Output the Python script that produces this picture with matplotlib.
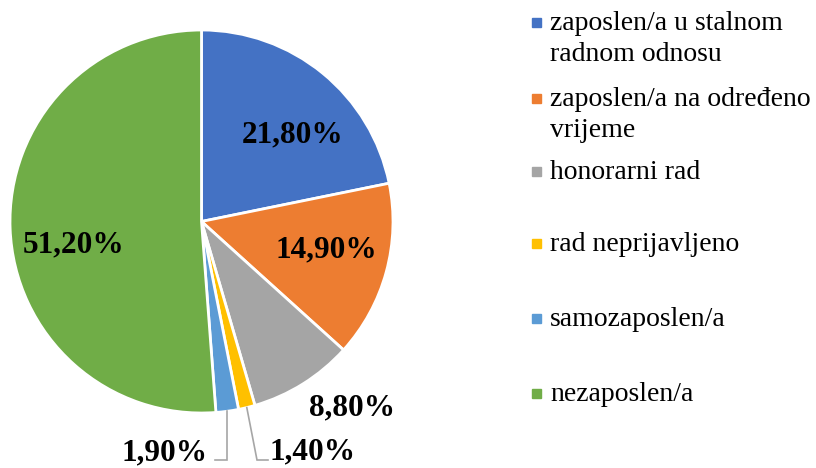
import numpy as np
import matplotlib.pyplot as plt

# podaci
kategorije = ['zaposlen/a u stalnom\nradnom odnosu',
              'zaposlen/a na određeno\nvrijeme',
              'honorarni rad',
              'rad neprijavljeno',
              'samozaposlen/a',
              'nezaposlen/a']
postoci = [21.8, 14.9, 8.8, 1.4, 1.9, 51.2]
boje = ['#4472C4', '#ED7D31', '#A5A5A5', '#FFC000', '#5B9BD5', '#70AD47']

W, H = 816, 468
fig = plt.figure(figsize=(W / 100, H / 100), dpi=100)
ax = fig.add_axes([0, 0, 1, 1])

cx, cy, r = 201.5, H - 221.5, 191.5
wedges, _ = ax.pie(postoci, colors=boje, startangle=90, counterclock=False,
                   center=(cx, cy), radius=r,
                   wedgeprops=dict(edgecolor='white', linewidth=2))
ax.set_xlim(0, W)
ax.set_ylim(0, H)
ax.set_aspect('equal')
ax.axis('off')

# polozaji oznaka (piksela, y od dna)
pos_oznaka = [(293, 333), (326, 218), (352, 60), (312, 16), (164, 15), (73.5, 223)]

for i, (p, (x, y)) in enumerate(zip(postoci, pos_oznaka)):
    txt = f'{p:.2f}%'.replace('.', ',')
    ax.text(x, y, txt, ha='center', va='center', fontsize=22.5,
            fontweight='bold', family='Liberation Serif')

# linije za male isjecke
def vodilica(w):
    th = np.deg2rad((w.theta1 + w.theta2) / 2)
    return cx + r * np.cos(th), cy + r * np.sin(th)

x0, y0 = vodilica(wedges[4])
ax.plot([x0, x0, 215], [y0, 8, 8], color='#a6a6a6', lw=1.2, solid_joinstyle='miter')
x0, y0 = vodilica(wedges[3])
ax.plot([x0, 257, 268], [y0, 8, 8], color='#a6a6a6', lw=1.2, solid_joinstyle='miter')

# legenda
leg_y = [22, 98, 171, 243, 318, 393]
for k, b, y in zip(kategorije, boje, leg_y):
    ax.add_patch(plt.Rectangle((532, H - y - 4.5), 9, 9, color=b))
    ax.text(550, H - y + 11, k, ha='left', va='top', fontsize=20,
            family='Liberation Serif', linespacing=1.32)

fig.savefig('out.png', dpi=100)
